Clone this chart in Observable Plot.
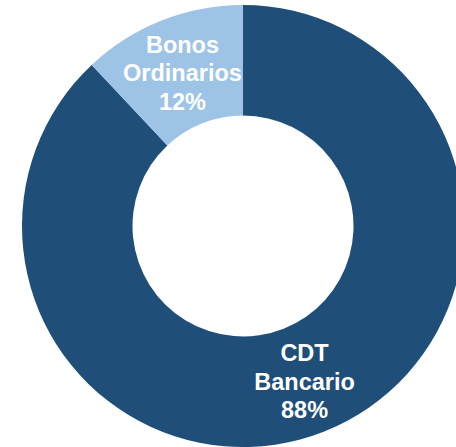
<!DOCTYPE html>
<html><head><meta charset="utf-8">
<script src="https://cdn.jsdelivr.net/npm/d3@7"></script>
<script src="https://cdn.jsdelivr.net/npm/@observablehq/plot@0.6"></script>
<style>html,body{margin:0;padding:0;overflow:hidden;background:#fff}</style>
</head><body><div id="chart"></div>
<script>
const categories = ["CDT Bancario", "Bonos Ordinarios"];
const labels = ["CDT\nBancario", "Bonos\nOrdinarios"];
const values = [88, 12];
const colors = ["#1F4E79", "#9DC3E6"];

const inner = 0.5, outer = 1;
const data = categories.map((c, i) => ({category: c, label: labels[i], value: values[i]}));
const arcs = d3.pie().sort(null).value(d => d.value)(data);
const arcGen = d3.arc().innerRadius(inner).outerRadius(outer);
const slices = arcs.map(a => {
  const [cx, cy] = arcGen.centroid(a);
  return {...a.data, startAngle: a.startAngle, endAngle: a.endAngle, cx, cy: -cy};
});

function donut(rows) {
  return Plot.dot(rows, {
    x: () => 0, y: () => 0,
    render(index, scales) {
      const x0 = scales.x(0), y0 = scales.y(0);
      const R = Math.abs(scales.x(outer) - scales.x(0));
      const a = d3.arc().innerRadius(R * inner).outerRadius(R * outer);
      const g = d3.create("svg:g");
      g.selectAll("path").data(index).join("path")
        .attr("transform", `translate(${x0},${y0})`)
        .attr("d", i => a(rows[i]))
        .attr("fill", i => scales.color(rows[i].category));
      return g.node();
    }
  });
}

const chart = Plot.plot({
  width: 456, height: 447, margin: 0,
  style: {background: "#fff", overflow: "hidden"},
  x: {domain: [-1, 1], range: [22, 464], axis: null},
  y: {domain: [-1, 1], range: [447, 5], axis: null},
  color: {domain: categories, range: colors},
  marks: [
    donut(slices),
    Plot.text(slices, {
      x: "cx", y: "cy",
      text: d => d.label + "\n" + d.value + "%",
      fill: "white", fontSize: 23.5, fontWeight: "bold",
      fontFamily: "Liberation Sans, Arial, sans-serif",
      lineHeight: 1.2
    })
  ]
});
document.getElementById("chart").append(chart);
</script>
</body></html>
